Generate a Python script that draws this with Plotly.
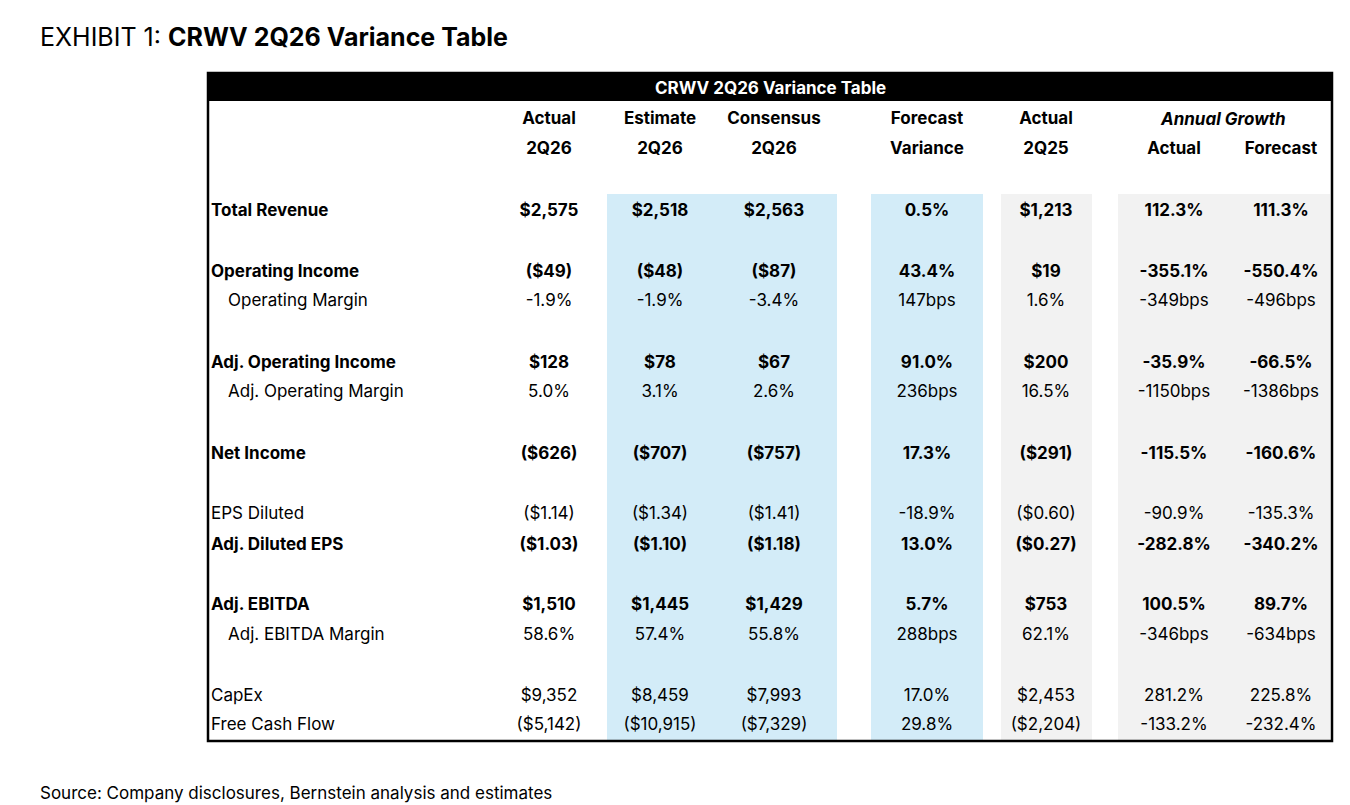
import plotly.graph_objects as go

labels = ["Total Revenue","Operating Income","Operating Margin","Adj. Operating Income","Adj. Operating Margin",
          "Net Income","EPS Diluted","Adj. Diluted EPS","Adj. EBITDA","Adj. EBITDA Margin","CapEx","Free Cash Flow"]
bold = [1,1,0,1,0,1,0,1,1,0,0,0]
indent = [0,0,1,0,1,0,0,0,0,1,0,0]
actual_2q26 = ["$2,575","($49)","-1.9%","$128","5.0%","($626)","($1.14)","($1.03)","$1,510","58.6%","$9,352","($5,142)"]
estimate_2q26 = ["$2,518","($48)","-1.9%","$78","3.1%","($707)","($1.34)","($1.10)","$1,445","57.4%","$8,459","($10,915)"]
consensus_2q26 = ["$2,563","($87)","-3.4%","$67","2.6%","($757)","($1.41)","($1.18)","$1,429","55.8%","$7,993","($7,329)"]
forecast_var = ["0.5%","43.4%","147bps","91.0%","236bps","17.3%","-18.9%","13.0%","5.7%","288bps","17.0%","29.8%"]
actual_2q25 = ["$1,213","$19","1.6%","$200","16.5%","($291)","($0.60)","($0.27)","$753","62.1%","$2,453","($2,204)"]
growth_actual = ["112.3%","-355.1%","-349bps","-35.9%","-1150bps","-115.5%","-90.9%","-282.8%","100.5%","-346bps","281.2%","-133.2%"]
growth_forecast = ["111.3%","-550.4%","-496bps","-66.5%","-1386bps","-160.6%","-135.3%","-340.2%","89.7%","-634bps","225.8%","-232.4%"]
headers1 = ["Actual","Estimate","Consensus","Forecast","Actual","Actual","Forecast"]
headers2 = ["2Q26","2Q26","2Q26","Variance","2Q25","",""]

DY = 2
row_y = [y + DY for y in [210,271,300,362,391,453,513,544,604,634,695,724]]
col_x = [549,660,774,927,1046,1174,1281]
cols = [actual_2q26,estimate_2q26,consensus_2q26,forecast_var,actual_2q25,growth_actual,growth_forecast]
FONT = "Inter, Roboto, sans-serif"
FS = 17

fig = go.Figure()
shapes = [
    dict(type="rect", x0=607, x1=837, y0=194, y1=741, fillcolor="#d3ecf8", line_width=0, layer="below"),
    dict(type="rect", x0=871, x1=983, y0=194, y1=741, fillcolor="#d3ecf8", line_width=0, layer="below"),
    dict(type="rect", x0=1001, x1=1092, y0=194, y1=741, fillcolor="#f2f2f2", line_width=0, layer="below"),
    dict(type="rect", x0=1118, x1=1330, y0=194, y1=741, fillcolor="#f2f2f2", line_width=0, layer="below"),
    dict(type="rect", x0=208, x1=1332, y0=73, y1=101, fillcolor="black", line_width=0),
    dict(type="rect", x0=208, x1=1332, y0=73, y1=741, line=dict(color="black", width=2.5)),
]

def txt(s, b):
    return f"<b>{s}</b>" if b else s

fig.add_trace(go.Scatter(x=[211 + 17*i for i in indent], y=row_y, mode="text",
    text=[txt(l, b) for l, b in zip(labels, bold)], textposition="middle right",
    textfont=dict(family=FONT, size=FS, color="black"), hoverinfo="skip"))
for cx, col in zip(col_x, cols):
    fig.add_trace(go.Scatter(x=[cx]*len(col), y=row_y, mode="text",
        text=[txt(v, b) for v, b in zip(col, bold)], textposition="middle center",
        textfont=dict(family=FONT, size=FS, color="black"), hoverinfo="skip"))
fig.add_trace(go.Scatter(x=col_x, y=[118+DY]*7, mode="text", text=[f"<b>{h}</b>" for h in headers1[:5]] + ["",""],
    textfont=dict(family=FONT, size=FS, color="black"), hoverinfo="skip"))
fig.add_trace(go.Scatter(x=col_x, y=[148+DY]*7, mode="text",
    text=[f"<b>{h}</b>" for h in headers2[:5]] + [f"<b>{h}</b>" for h in headers1[5:]],
    textfont=dict(family=FONT, size=FS, color="black"), hoverinfo="skip"))

ann = [
    dict(x=770, y=88, text="<b>CRWV 2Q26 Variance Table</b>", font=dict(family=FONT, size=FS, color="white"),
         xanchor="center", yanchor="middle"),
    dict(x=1223, y=119, text="<b><i>Annual Growth</i></b>", font=dict(family=FONT, size=FS, color="black"),
         xanchor="center", yanchor="middle"),
    dict(x=38, y=37, text="EXHIBIT 1: <b>CRWV 2Q26 Variance Table</b>", font=dict(family=FONT, size=25, color="black"),
         xanchor="left", yanchor="middle"),
    dict(x=38, y=793, text="Source: Company disclosures, Bernstein analysis and estimates",
         font=dict(family=FONT, size=FS, color="black"), xanchor="left", yanchor="middle"),
]
for a in ann:
    a.update(xref="x", yref="y", showarrow=False)

fig.update_layout(width=1350, height=805, margin=dict(l=0, r=0, t=0, b=0),
    paper_bgcolor="white", plot_bgcolor="white", showlegend=False, shapes=shapes, annotations=ann,
    xaxis=dict(range=[8,1358], visible=False, fixedrange=True),
    yaxis=dict(range=[813,8], visible=False, fixedrange=True))
fig.write_html("out.html")
